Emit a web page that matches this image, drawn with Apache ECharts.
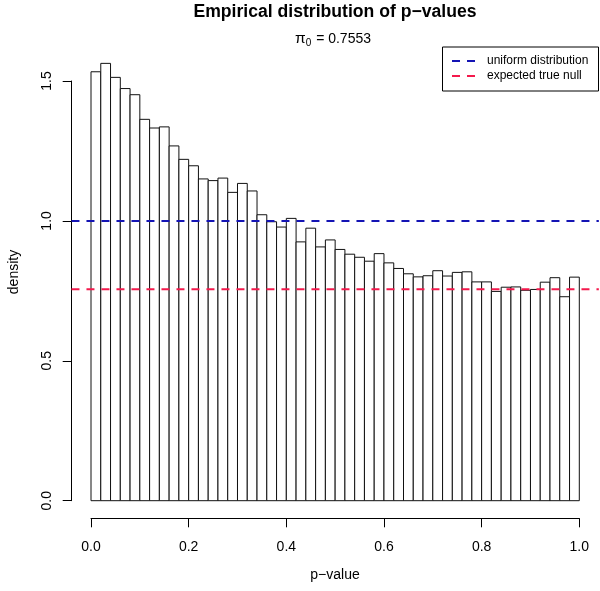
<!DOCTYPE html>
<html>
<head>
<meta charset="utf-8">
<script src="https://cdn.jsdelivr.net/npm/echarts@6/dist/echarts.min.js"></script>
<style>html,body{margin:0;padding:0;background:#fff}#c{width:600px;height:591px}</style>
</head>
<body>
<div id="c"></div>
<script>
// bin width 0.02, 50 bins on [0,1]
const binWidth = 0.02;
const densities = [1.533,1.563,1.513,1.473,1.451,1.363,1.332,1.336,1.268,1.220,
  1.197,1.150,1.144,1.153,1.102,1.134,1.107,1.022,0.997,0.978,
  1.009,0.925,0.974,0.907,0.932,0.898,0.881,0.870,0.856,0.883,
  0.850,0.830,0.811,0.800,0.804,0.822,0.803,0.816,0.818,0.782,
  0.782,0.748,0.763,0.764,0.752,0.755,0.781,0.797,0.729,0.799];
const uniformLevel = 1.0;
const pi0 = 0.7553;
const lineExtent = [-0.04, 1.04];
const legendNames = ['uniform distribution', 'expected true null'];
const legendColors = ['#1414b4', '#f4194c'];

const FONT = "'Liberation Sans', Arial, Helvetica, sans-serif";
const chart = echarts.init(document.getElementById('c'), null, {renderer: 'canvas'});

const barData = densities.map((d, i) => [i * binWidth, (i + 1) * binWidth, d]);

function hLine(level, color) {
  return {
    type: 'custom', clip: false, z: 5, data: [[level]],
    renderItem: function (params, api) {
      const a = api.coord([lineExtent[0], api.value(0)]);
      const b = api.coord([lineExtent[1], api.value(0)]);
      return {type: 'line', shape: {x1: a[0], y1: a[1], x2: b[0], y2: b[1]},
        style: {stroke: color, lineWidth: 2, lineDash: [8, 7]}};
    }
  };
}

// legend drawn as graphic
const LX = 442, LY = 46.5, LW = 156, LH = 44;
const legendGroup = {
  type: 'group', left: LX, top: LY,
  children: [
    {type: 'rect', shape: {x: 0.5, y: 0.5, width: LW, height: LH}, style: {fill: '#fff', stroke: '#000', lineWidth: 1}},
  ].concat(legendNames.flatMap((n, i) => [
    {type: 'line', shape: {x1: 10, y1: 14.5 + i * 15, x2: 34, y2: 14.5 + i * 15},
      style: {stroke: legendColors[i], lineWidth: 2, lineDash: [8, 7]}},
    {type: 'text', x: 45, y: 14.5 + i * 15,
      style: {text: n, fontFamily: FONT, fontSize: 12, fill: '#000', textVerticalAlign: 'middle'}}
  ]))
};

chart.setOption({
  animation: false,
  backgroundColor: '#fff',
  textStyle: {fontFamily: FONT, color: '#000'},
  title: [
    {text: 'Empirical distribution of p\u2212values', left: 335, textAlign: 'center', top: 3, padding: 0,
     textStyle: {fontFamily: FONT, fontSize: 17.6, fontWeight: 'bold', color: '#000'}},
    {text: '{p|\u03c0}{s|0}{n| = ' + pi0.toFixed(4) + '}', left: 333, textAlign: 'center', top: 30, padding: 0,
     textStyle: {fontFamily: FONT, fontSize: 14, fontWeight: 'normal', color: '#000',
       rich: {p: {fontSize: 15.5, fontFamily: FONT, color: '#000'},
              s: {fontSize: 10, fontFamily: FONT, color: '#000', padding: [8, 1, 0, 0]},
              n: {fontSize: 14, fontFamily: FONT, color: '#000'}}}}
  ],
  grid: {left: 91, right: 20.7, top: 81, bottom: 90.3, containLabel: false},
  xAxis: {
    type: 'value', min: 0, max: 1, interval: 0.2, offset: 17.6,
    axisLine: {show: true, onZero: false, lineStyle: {color: '#000', width: 1}},
    axisTick: {show: true, length: 9, lineStyle: {color: '#000'}},
    axisLabel: {fontFamily: FONT, fontSize: 14, color: '#000', margin: 22,
      formatter: v => v.toFixed(1)},
    splitLine: {show: false}
  },
  yAxis: {
    type: 'value', min: 0, max: 1.5, interval: 0.5, offset: 19.3,
    axisLine: {show: true, onZero: false, lineStyle: {color: '#000', width: 1}},
    axisTick: {show: true, length: 9, lineStyle: {color: '#000'}},
    axisLabel: {fontFamily: FONT, fontSize: 14, color: '#000', rotate: 90, margin: 18,
      formatter: v => v.toFixed(1)},
    splitLine: {show: false}
  },
  graphic: [
    {type: 'text', x: 335, y: 575, style: {text: 'p\u2212value', fontFamily: FONT, fontSize: 14, fill: '#000', textAlign: 'center', textVerticalAlign: 'middle'}},
    {type: 'text', x: 14, y: 272, rotation: Math.PI / 2, style: {text: 'density', fontFamily: FONT, fontSize: 14, fill: '#000', textAlign: 'center', textVerticalAlign: 'middle'}},
    legendGroup
  ],
  series: [
    {
      type: 'custom', name: 'histogram', clip: false, z: 2,
      data: barData,
      renderItem: function (params, api) {
        const p0 = api.coord([api.value(0), 0]);
        const p1 = api.coord([api.value(1), api.value(2)]);
        return {type: 'rect', shape: {x: p0[0], y: p1[1], width: p1[0] - p0[0], height: p0[1] - p1[1]},
          style: {fill: '#fff', stroke: '#111', lineWidth: 1}};
      }
    },
    hLine(uniformLevel, legendColors[0]),
    hLine(pi0, legendColors[1])
  ]
});
</script>
</body>
</html>
